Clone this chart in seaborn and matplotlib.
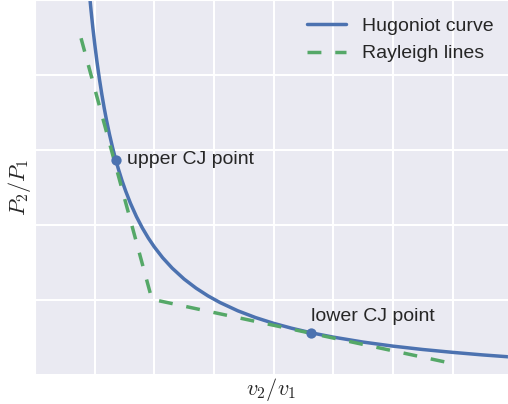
import matplotlib
matplotlib.use("Agg")
import matplotlib.pyplot as plt
import seaborn as sns

# Style
sns.set_style("darkgrid")
plt.rcParams['font.family'] = ['Liberation Sans', 'DejaVu Sans']
plt.rcParams['mathtext.fontset'] = 'cm'

# ---------------- DATA ----------------
hug_v = [0.445, 0.455, 0.47, 0.485, 0.50, 0.52, 0.54, 0.56, 0.58, 0.60, 0.625,
         0.65, 0.677, 0.70, 0.73, 0.76, 0.80, 0.85, 0.90, 0.95, 1.00, 1.07,
         1.15, 1.25, 1.35, 1.45, 1.55, 1.70, 1.85, 2.00, 2.15, 2.311, 2.50,
         2.75, 3.00, 3.25, 3.50, 3.75, 3.965]
hug_p = [5.287, 5.106, 4.857, 4.629, 4.422, 4.171, 3.946, 3.744, 3.560, 3.393, 3.204,
         3.034, 2.869, 2.741, 2.589, 2.453, 2.290, 2.113, 1.960, 1.826, 1.708, 1.564,
         1.425, 1.279, 1.158, 1.055, 0.967, 0.856, 0.765, 0.689, 0.624, 0.564, 0.505,
         0.439, 0.385, 0.340, 0.302, 0.268, 0.243]

ray_v = [0.386, 0.98, 3.49]
ray_p = [4.49, 1.01, 0.156]

cj_v = [0.677, 2.311]
cj_p = [2.869, 0.564]
cj_labels = ["upper CJ point", "lower CJ point"]

x_ticks = [0, 0.5, 1.0, 1.5, 2.0, 2.5, 3.0, 3.5]
y_ticks = [0, 1, 2, 3, 4, 5]

blue = "#4C72B0"
green = "#55A868"

# ---------------- PLOT ----------------
fig = plt.figure(figsize=(5.08, 4.04), dpi=100)
ax = fig.add_axes([35 / 508, 29 / 404, 473 / 508, 375 / 404])

sns.lineplot(x=hug_v, y=hug_p, ax=ax, color=blue, lw=2.5, label="Hugoniot curve")
sns.lineplot(x=ray_v, y=ray_p, ax=ax, color=green, lw=2.5, sort=False,
             linestyle=(0, (4, 4)), label="Rayleigh lines")
sns.scatterplot(x=cj_v, y=cj_p, ax=ax, color=blue, s=55, edgecolor=blue, linewidth=0,
                zorder=5)

ax.annotate(cj_labels[0], (cj_v[0], cj_p[0]), xytext=(8, 0), textcoords="offset points",
            va="center", ha="left", fontsize=14, color=".15")
ax.annotate(cj_labels[1], (cj_v[1], cj_p[1]), xytext=(0, 11.5), textcoords="offset points",
            va="center", ha="left", fontsize=14, color=".15")

ax.set_xlim(0, 3.965)
ax.set_ylim(0, 5)
ax.set_xticks(x_ticks)
ax.set_yticks(y_ticks)
ax.set_xticklabels([])
ax.set_yticklabels([])
ax.tick_params(axis="y", length=2, width=1, color=".15")
ax.tick_params(axis="x", length=2, width=1, color=".6")
ax.grid(True, color="white", lw=1.5)

ax.set_xlabel("$v_2/v_1$", fontsize=16, color=".15", labelpad=-5)
ax.set_ylabel("$P_2/P_1$", fontsize=16, color=".15", labelpad=-4)

leg = ax.legend(loc="upper right", bbox_to_anchor=(1.0 + 3 / 473, 1.0),
                frameon=False, fontsize=14)
for t in leg.get_texts():
    t.set_color(".15")

plt.savefig("out.png", dpi=100)
plt.close()
